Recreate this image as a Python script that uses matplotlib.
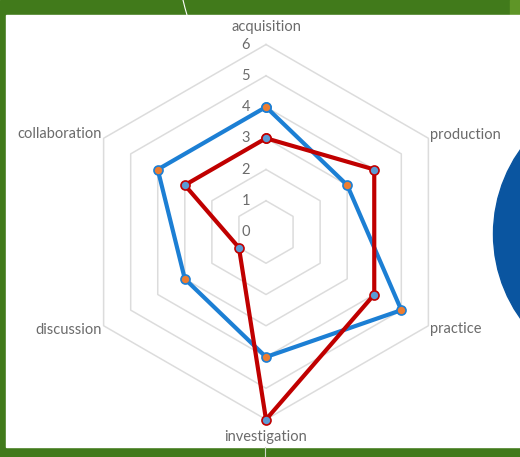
import numpy as np
import matplotlib
matplotlib.use("Agg")
import matplotlib.pyplot as plt
from matplotlib.patches import Rectangle, Circle

# data
categories = ["acquisition", "production", "practice", "investigation", "discussion", "collaboration"]
blue_vals = [4, 3, 5, 4, 3, 4]
red_vals = [3, 4, 4, 6, 1, 3]
levels = [0, 1, 2, 3, 4, 5, 6]

plt.rcParams['font.family'] = ['Lato', 'DejaVu Sans']

W, H = 520, 457
fig = plt.figure(figsize=(W / 100, H / 100), dpi=100)

# slide background (pixel coordinates)
bg = fig.add_axes([0, 0, 1, 1])
bg.set_xlim(0, W)
bg.set_ylim(H, 0)
bg.axis("off")
bg.add_patch(Rectangle((0, 0), W, H, color="#417a1b", zorder=0))
bg.add_patch(Rectangle((510, 0), 10, 15, color="#5f9527", zorder=0))
bg.add_patch(Rectangle((6, 15), W - 6, 432, color="white", zorder=1))
bg.plot([183, 185, 187], [0, 8, 15], color="white", lw=0.8, zorder=2)
bg.plot([265, 265], [447, 457], color="#cfd8c8", lw=0.8, zorder=2)
bg.add_patch(Circle((639, 234), 145.5, color="#0a55a0", zorder=2, clip_on=False))

# radar axes: center at (266, 232) px, 31.25 px per unit
cx, cy, s = 266, 232, 31.25
ax = fig.add_axes([0, 0, 1, 1])
ax.set_xlim(-cx / s, (W - cx) / s)
ax.set_ylim(-(H - cy) / s, cy / s)
ax.axis("off")
ax.patch.set_alpha(0)

n = len(categories)
theta = np.arange(n) * 2 * np.pi / n


def xy(vals):
    v = np.array(list(vals) + [vals[0]], dtype=float)
    t = np.append(theta, theta[0])
    return v * np.sin(t), v * np.cos(t)


# hexagonal grid
for lv in levels[1:]:
    gx, gy = xy([lv] * n)
    ax.plot(gx, gy, color="#dcdcdc", lw=1.1, zorder=1)

# radial tick labels
for lv in levels:
    ax.text(-0.65, lv, str(lv), ha="center", va="center", fontsize=10.5, color="#6b6b6b", zorder=3)

# category labels
rmax = levels[-1]
for name, t in zip(categories, theta):
    x, y = rmax * np.sin(t), rmax * np.cos(t)
    if abs(np.sin(t)) < 0.01:
        y = (rmax + 0.56) * np.sign(np.cos(t))
        ha = "center"
    else:
        x += 0.06 * np.sign(np.sin(t))
        y += 0.12 * np.sign(np.cos(t))
        ha = "left" if np.sin(t) > 0 else "right"
    ax.text(x, y, name, ha=ha, va="center", fontsize=10.5, color="#6b6b6b", zorder=3)

# series
bx, by = xy(blue_vals)
ax.plot(bx, by, color="#1c7fd4", lw=3, zorder=4, solid_joinstyle="round",
        marker="o", markersize=6.5, markerfacecolor="#ed7d31", markeredgecolor="#1c7fd4", markeredgewidth=1.2)
rx, ry = xy(red_vals)
ax.plot(rx, ry, color="#c00000", lw=3, zorder=5, solid_joinstyle="round",
        marker="o", markersize=6.5, markerfacecolor="#5b9bd5", markeredgecolor="#c00000", markeredgewidth=1.2)

fig.savefig("out.png", dpi=100)
